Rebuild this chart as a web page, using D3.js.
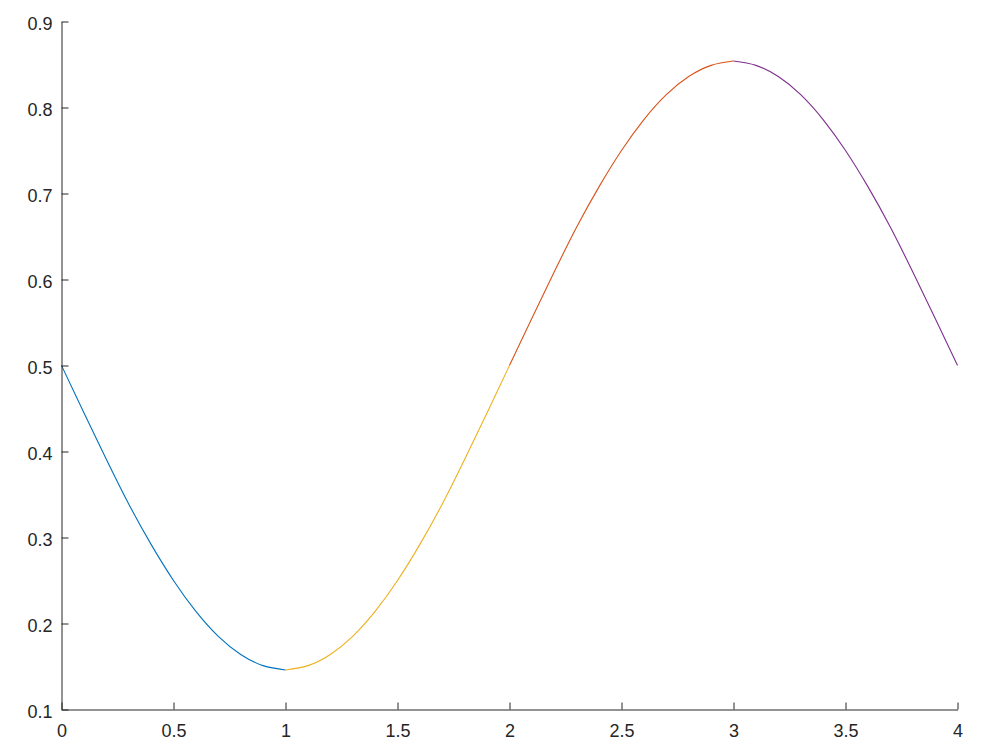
<!DOCTYPE html>
<html><head><meta charset="utf-8">
<script src="https://cdn.jsdelivr.net/npm/d3@7"></script>
<style>html,body{margin:0;padding:0;background:#fff;}</style>
</head><body>
<svg id="chart" width="1000" height="750"></svg>
<script>
const xs1 = [0,0.1,0.2,0.3,0.4,0.5,0.6,0.7,0.8,0.9,1.0];
const ys1 = [0.500,0.445,0.391,0.339,0.292,0.250,0.214,0.185,0.164,0.151,0.146];
const xs2 = [1.0,1.1,1.2,1.3,1.4,1.5,1.6,1.7,1.8,1.9,2.0];
const ys2 = [0.146,0.151,0.164,0.185,0.214,0.250,0.292,0.339,0.391,0.445,0.500];
const xs3 = [2.0,2.1,2.2,2.3,2.4,2.5,2.6,2.7,2.8,2.9,3.0];
const ys3 = [0.500,0.555,0.609,0.661,0.708,0.750,0.786,0.815,0.836,0.849,0.854];
const xs4 = [3.0,3.1,3.2,3.3,3.4,3.5,3.6,3.7,3.8,3.9,4.0];
const ys4 = [0.854,0.849,0.836,0.815,0.786,0.750,0.708,0.661,0.609,0.555,0.500];
const segColors = ["#0072BD","#EDB120","#D95319","#7E2F8E"];
const xTicks = [0,0.5,1,1.5,2,2.5,3,3.5,4];
const yTicks = [0.1,0.2,0.3,0.4,0.5,0.6,0.7,0.8,0.9];

const svg = d3.select("#chart");
const mLeft = 61.5, mRight = 957.5, mTop = 21.5, mBottom = 709.5;
const x = d3.scaleLinear().domain([0,4]).range([mLeft,mRight]);
const y = d3.scaleLinear().domain([0.1,0.9]).range([mBottom,mTop]);

const segs = [[xs1,ys1],[xs2,ys2],[xs3,ys3],[xs4,ys4]];
const line = d3.line().x(d=>x(d[0])).y(d=>y(d[1])).curve(d3.curveNatural);
segs.forEach((s,i)=>{
  const pts = s[0].map((v,j)=>[v,s[1][j]]);
  svg.append("path").attr("d",line(pts)).attr("fill","none")
    .attr("stroke",segColors[i]).attr("stroke-width",1.1);
});

const font = "'Liberation Sans', Arial, Helvetica, sans-serif";
const gx = svg.append("g").attr("transform",`translate(0,${mBottom})`)
  .call(d3.axisBottom(x).tickValues(xTicks).tickSizeInner(-7).tickSizeOuter(0).tickPadding(15)
    .tickFormat(d3.format("~g")));
const gy = svg.append("g").attr("transform",`translate(${mLeft},0)`)
  .call(d3.axisLeft(y).tickValues(yTicks).tickSizeInner(-7).tickSizeOuter(0).tickPadding(9)
    .tickFormat(d3.format(".1f")));
[gx,gy].forEach(g=>{
  g.select(".domain").attr("stroke","#262626").attr("stroke-width",1);
  g.selectAll(".tick line").attr("stroke","#262626").attr("stroke-width",1);
  g.selectAll(".tick text").attr("fill","#262626").style("font-family",font).style("font-size","18px");
});
gy.selectAll(".tick text").attr("dy","0.42em");
</script>
</body></html>
